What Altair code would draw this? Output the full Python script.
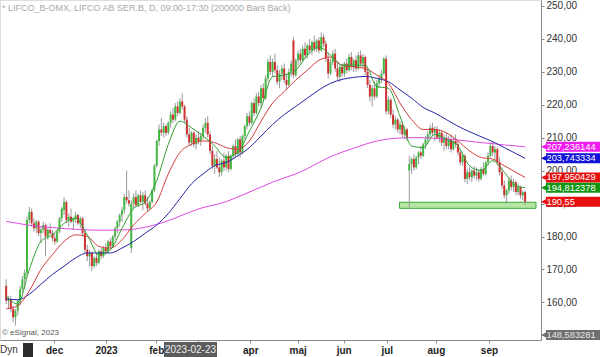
import altair as alt
import pandas as pd

# ---------------- data ----------------
opens = [165, 160.5, 161, 158, 155.5, 157.5, 160.5, 164, 167, 169,
         185, 187.5, 184, 182.5, 184.5, 181, 182, 183.5, 180, 182,
         181, 179.5, 178.5, 181.5, 185.5, 188, 190.5, 185, 186, 184.5,
         185.5, 186.5, 184, 185.5, 181, 176, 174, 175, 171, 173.5,
         172, 175.5, 174, 176.5, 175.5, 178.5, 177, 180, 182.5, 184.5,
         186.5, 188, 192, 191, 176.5, 190, 192, 189.5, 192.5, 190.5,
         192.5, 190, 188.5, 190.5, 194, 201.5, 209, 212.5, 211.5, 213.5,
         211.5, 214.5, 217, 215.5, 219.5, 217.5, 221, 219.5, 215.5, 211,
         208.5, 211.5, 208, 210, 209, 210.5, 213, 214.5, 211, 206,
         201.5, 203.5, 201, 199.5, 203, 201, 204.5, 200.5, 204.5, 207.5,
         205, 209.5, 205.5, 210.5, 213.5, 216.5, 214.5, 220.5, 217.5, 222.5,
         220.5, 225, 222, 228, 233, 230, 233, 230.5, 227, 229.5,
         231, 227.5, 226, 230, 239.5, 229, 233.5, 235.5, 233.5, 237,
         235, 238, 236.5, 239, 237, 239.5, 236.5, 240.5, 238.5, 234,
         229.5, 233, 235.5, 231, 228.5, 231.5, 229.5, 232.5, 230.5, 234.5,
         231.5, 233.5, 231, 235, 232.5, 234.5, 230, 226, 222.5, 225,
         222.5, 226.5, 228, 229.5, 234, 218, 221.5, 217, 214, 215.5,
         212.5, 214, 211, 212.5, 200, 202, 203.5, 201, 204, 205.5,
         204.5, 208, 209.5, 211, 213, 211.5, 212.5, 210, 211.5, 208.5,
         210, 207.5, 209.5, 206.5, 209, 208, 205.5, 202.5, 204.5, 197.5,
         199.5, 198, 200, 198.5, 199.5, 197.5, 200.5, 199, 202.5, 204.5,
         207.5, 205.5, 206.5, 202.5, 199.5, 195.5, 192.5, 194, 197, 195,
         196.5, 193.5, 195, 192.5, 193.5]
highs = [167, 162, 162, 159, 158, 161, 165, 168, 170, 186,
         189, 188.5, 185.5, 185, 185, 183, 184.5, 184, 182.5, 184,
         182, 181, 182, 186, 189, 192, 191, 187, 188.5, 186,
         187.5, 187, 186, 186, 182, 177.5, 176, 175.5, 174, 175,
         176, 176.5, 177, 178, 179, 179.5, 180.5, 183, 185, 187,
         189, 193, 200, 194, 191, 193, 194, 193, 194, 193.5,
         194, 192, 191, 194.5, 202, 209.5, 214, 216, 214.5, 214,
         215, 218, 219, 220.5, 221, 222, 223.5, 220, 216.5, 213,
         212, 212, 211, 212, 211.5, 214, 216, 216.5, 212, 207.5,
         205, 206, 204, 203.5, 205.5, 205, 206, 205, 208, 209.5,
         210, 210.5, 211, 214, 217.5, 218, 221, 222, 223.5, 224,
         226, 226.5, 229, 234, 235, 234, 235.5, 232, 230.5, 232,
         232.5, 229.5, 231, 233.5, 240.5, 234, 236.5, 237, 238, 239,
         238.5, 240, 239.5, 241, 240, 240.5, 242, 241.5, 239.5, 236,
         234, 236.5, 237, 233, 232, 232.5, 233, 234, 235.5, 236,
         234, 235, 236, 236.5, 235.5, 235, 231, 227.5, 226, 227,
         227.5, 229, 230.5, 234.5, 235, 222.5, 222, 218.5, 216.5, 216,
         215, 215, 213.5, 213, 204.5, 204, 205, 204.5, 206, 207.5,
         208.5, 210.5, 212, 214, 214.5, 213.5, 213.5, 212.5, 212, 211,
         211.5, 210.5, 211, 210, 211, 209, 206.5, 205.5, 205, 200.5,
         201, 200.5, 201.5, 201, 200.5, 201, 202.5, 203, 205.5, 208.5,
         209, 207.5, 207, 204, 201, 197, 194.5, 198, 198.5, 197.5,
         197, 196, 195.5, 194, 194]
lows = [159.5, 158, 157, 154, 153, 156, 159, 163, 164, 168,
        184, 183, 181.5, 181, 180, 178, 181, 174, 179, 180.5,
        178.5, 177.5, 178, 181, 184.5, 186.5, 184, 183, 184, 182,
        184, 183.5, 182.5, 180, 175, 172.5, 171, 169.5, 170.5, 171,
        171.5, 173, 173.5, 174.5, 175, 176, 176.5, 179, 181, 183,
        184.5, 187, 190, 189, 175, 188.5, 189, 189, 190, 188,
        189.5, 187.5, 188, 190, 193.5, 201, 207.5, 210.5, 210, 210.5,
        211, 213, 214.5, 215, 216.5, 217, 218.5, 214.5, 210, 207.5,
        207.5, 207, 206.5, 208, 207.5, 209.5, 211.5, 210, 205, 200.5,
        199, 200.5, 198, 198.5, 200, 200, 199.5, 200, 203.5, 204,
        204.5, 204, 205, 209.5, 212.5, 213.5, 214, 216.5, 217, 219.5,
        219, 221, 221.5, 227, 229, 228.5, 229.5, 226, 225, 227.5,
        226.5, 224.5, 225.5, 228.5, 228, 228.5, 232, 232.5, 233, 234,
        234, 235.5, 235, 236, 236, 235.5, 236, 237.5, 233, 228,
        229, 232, 230, 227.5, 227, 228.5, 228.5, 229.5, 230, 230.5,
        230, 230, 230.5, 231.5, 231, 229, 225, 221, 219.5, 221.5,
        222, 225, 226.5, 229, 217, 217, 216, 213, 212.5, 211.5,
        211, 210, 209.5, 209, 188.5, 199, 200, 200.5, 202, 203.5,
        204, 206.5, 208, 210, 210.5, 209, 209.5, 208.5, 207.5, 206,
        206.5, 206.5, 205.5, 206, 207, 204.5, 201.5, 201.5, 196.5, 196,
        197, 196.5, 197.5, 197, 196.5, 197, 198.5, 198.5, 201.5, 204,
        204.5, 203, 201.5, 198.5, 194.5, 191.5, 190, 193, 194, 193.5,
        192.5, 192.5, 191.5, 191, 189.5]
closes = [160.5, 161, 158, 155.5, 157.5, 160.5, 164, 167, 169, 185,
          187.5, 184, 182.5, 184.5, 181, 182, 183.5, 180, 182, 181,
          179.5, 178.5, 181.5, 185.5, 188.5, 190.5, 185, 186, 184.5, 185.5,
          186.5, 184, 185.5, 181, 176, 174, 175, 171, 173.5, 172,
          175.5, 174, 176.5, 175.5, 178.5, 177, 180, 182.5, 184.5, 186.5,
          188, 192, 191, 190, 190, 192, 189.5, 192.5, 190.5, 192.5,
          190, 188.5, 190.5, 194, 201.5, 209, 212.5, 211.5, 213.5, 211.5,
          214.5, 217, 215.5, 219.5, 217.5, 221, 219.5, 215.5, 211, 208.5,
          211.5, 208, 210, 209, 210.5, 213, 214.5, 211, 206, 201.5,
          203.5, 201, 199.5, 203, 201, 204.5, 200.5, 204.5, 207.5, 205,
          209.5, 205.5, 210.5, 213.5, 216.5, 214.5, 220.5, 217.5, 222.5, 220.5,
          225, 222, 228, 233, 230, 233, 230.5, 227, 229.5, 231,
          227.5, 226, 230, 232.5, 229, 233.5, 235.5, 233.5, 237, 235,
          238, 236.5, 239, 237, 239.5, 236.5, 240.5, 238.5, 234, 229.5,
          233, 235.5, 231, 228.5, 231.5, 229.5, 232.5, 230.5, 234.5, 231.5,
          233.5, 231, 235, 232.5, 234.5, 230, 226, 222.5, 225, 222.5,
          226.5, 228, 229.5, 234, 218, 221.5, 217, 214, 215.5, 212.5,
          214, 211, 212.5, 210, 202, 203.5, 201, 204, 205.5, 204.5,
          208, 209.5, 211, 213, 211.5, 212.5, 210, 211.5, 208.5, 210,
          207.5, 209.5, 206.5, 209, 208, 205.5, 202.5, 204.5, 197.5, 199.5,
          198, 200, 198.5, 199.5, 197.5, 200.5, 199, 202.5, 204.5, 207.5,
          205.5, 206.5, 202.5, 199.5, 195.5, 192.5, 194, 197, 195, 196.5,
          193.5, 195, 192.5, 193.5, 190.55]

ma_index = [0, 5, 10, 15, 20, 25, 30, 35, 40, 45, 50, 55, 60, 65, 70, 75, 80, 85,
            90, 95, 100, 105, 110, 115, 120, 125, 130, 135, 140, 145, 150, 155,
            160, 165, 170, 175, 180, 185, 190, 195, 200, 205, 210, 215, 220, 224]
ma_green = [162, 159.5, 170, 178.5, 180.5, 184, 185.5, 180.5, 174.5, 176,
            182.5, 188.5, 190.5, 197, 208, 215, 213, 210.5, 207.5, 204,
            205.5, 212, 219, 228.5, 229, 230.5, 235, 237.5, 235, 232,
            232, 232, 225.5, 225, 216.5, 207.5, 207, 211, 209.5, 207.5,
            201.5, 200, 203, 199.5, 195.5, 194.812378]
ma_red = [158, 159, 163.5, 170, 174.5, 178.5, 180.5, 180, 177, 176.5,
          179, 183.5, 187, 190.5, 199, 205.5, 208, 209, 208.5, 207,
          206.5, 209, 215, 220.5, 224, 227.5, 230.5, 233.5, 234.5, 232,
          231.5, 231, 229, 226.5, 220.5, 215.5, 212.5, 212.5, 211.5, 209,
          206, 204, 203.5, 201.5, 199.5, 197.950429]
ma_blue = [161, 160.8, 162.5, 165.5, 168.5, 171, 173.5, 175, 175, 175,
           176.5, 178.5, 181, 183.5, 187, 191.5, 196, 199, 201.5, 202.5,
           204.5, 207, 210.5, 214, 217, 219.5, 222, 224.5, 226.5, 227.7,
           228.3, 228.6, 228, 227, 224.5, 222, 219.2, 217.5, 215.5, 213.5,
           211.8, 210.3, 208.8, 207, 205.2, 203.743334]
ma_magenta = [184.6, 184, 183.4, 183, 182.7, 182.4, 182.2, 182, 181.9, 181.9,
              182, 182.2, 182.8, 183.7, 184.8, 186.2, 187.6, 188.8, 189.6, 190.6,
              192, 193.5, 195, 196.5, 197.8, 199, 200.6, 202.5, 204.2, 205.6,
              206.8, 208, 209, 209.6, 209.9, 210, 210, 209.8, 209.6, 209.3,
              208.9, 208.5, 208.2, 207.8, 207.5, 207.236144]

month_ticks = [20.7, 43.1, 64.8, 83, 105.4, 125.8, 145.7, 164.3, 185.5, 208.4]
month_labels = ["dec", "2023", "feb", "", "apr", "maj", "jun", "jul", "aug", "sep"]
price_ticks = [160, 170, 180, 190, 200, 210, 220, 230, 240, 250]

tag_values = [207.236144, 203.743334, 197.950429, 194.812378, 190.55]
tag_texts = ["207,236144", "203,743334", "197,950429", "194,812378", "190,55"]
tag_colors = ["#f01cf0", "#1212d8", "#e81010", "#129612", "#e81010"]
low_tag_value = 148.583281
low_tag_text = "148,583281"

support_start = 169.8
support_low = 188.55
support_high = 190.4

X_MAX = 228.7
Y_MIN = 148.583281
Y_MAX = 251.8

# ---------------- chart ----------------
FONT = "Liberation Sans"
xs = alt.Scale(domain=[-0.5, X_MAX], nice=False, zero=False)
ys = alt.Scale(domain=[Y_MIN, Y_MAX], nice=False, zero=False)

labels_js = "[" + ",".join("'" + l + "'" for l in month_labels) + "]"
ticks_js = "[" + ",".join(str(t) for t in month_ticks) + "]"

x_axis = alt.Axis(values=month_ticks, labelExpr=labels_js + "[indexof(" + ticks_js + ", datum.value)]",
                  title=None, grid=False, tickSize=3, labelPadding=2, labelFontSize=10,
                  labelFontWeight="bold", labelColor="#222", domainColor="#8a8a8a",
                  tickColor="#8a8a8a", labelOverlap=False, labelFlush=False, labelFont=FONT)
y_axis = alt.Axis(values=price_ticks, labelExpr="replace(format(datum.value, '.2f'), '.', ',')",
                  orient="right", title=None, grid=False, tickSize=3, labelPadding=2,
                  labelFontSize=10, labelColor="#333", domainColor="#8a8a8a", tickColor="#8a8a8a",
                  labelOverlap=False, labelFont=FONT)


def X(field):
    return alt.X(field + ":Q", scale=xs, axis=x_axis)


def Y(field):
    return alt.Y(field + ":Q", scale=ys, axis=y_axis)


df = pd.DataFrame({"i": list(range(len(closes))), "o": opens, "h": highs, "l": lows, "c": closes})

support = alt.Chart(pd.DataFrame({"x0": [support_start], "x1": [X_MAX], "y0": [support_low], "y1": [support_high]})).mark_rect(
    fill="#b4e6a4", stroke="#3da53d", strokeWidth=1
).encode(x=X("x0"), x2="x1", y=Y("y0"), y2="y1")

wicks = alt.Chart(df).mark_rule(color="#9a9a9a", strokeWidth=1).encode(x=X("i"), y=Y("l"), y2="h")

bodies = alt.Chart(df).mark_bar(size=2).encode(
    x=X("i"), y=Y("o"), y2="c",
    color=alt.condition("datum.c >= datum.o", alt.value("#42b842"), alt.value("#cf2f2f")),
)


def ma_layer(values, color):
    d = pd.DataFrame({"i": ma_index, "v": values})
    return alt.Chart(d).mark_line(color=color, strokeWidth=1, interpolate="monotone").encode(x=X("i"), y=Y("v"))


lines = [ma_layer(ma_magenta, "#e048e0"), ma_layer(ma_blue, "#2424a6"),
         ma_layer(ma_red, "#d23c3c"), ma_layer(ma_green, "#2f9e2f")]

tags_df = pd.DataFrame({"v": tag_values, "t": tag_texts, "col": tag_colors})
tag_box = alt.Chart(tags_df).mark_rule(strokeWidth=10, strokeCap="butt").encode(
    x=alt.value(546), x2=alt.value(600), y=Y("v"), color=alt.Color("col:N", scale=None))
tag_arrow = alt.Chart(tags_df).mark_point(shape="M 1 -1 L 1 1 L -1 0 Z", filled=True, size=100, opacity=1).encode(
    x=alt.value(546), y=Y("v"), color=alt.Color("col:N", scale=None))
tag_text = alt.Chart(tags_df).mark_text(align="left", baseline="middle", fontSize=9.3, font=FONT, color="white").encode(
    x=alt.value(546.5), y=Y("v"), text="t:N")

low_df = pd.DataFrame({"v": [low_tag_value], "t": [low_tag_text]})
low_box = alt.Chart(low_df).mark_rule(strokeWidth=10, strokeCap="butt", color="#6e6e6e", yOffset=-5).encode(
    x=alt.value(546), x2=alt.value(600), y=Y("v"))
low_arrow = alt.Chart(low_df).mark_point(shape="M 1 -1 L 1 1 L -1 0 Z", filled=True, size=100, opacity=1,
                                         color="#6e6e6e", yOffset=-5).encode(x=alt.value(546), y=Y("v"))
low_text = alt.Chart(low_df).mark_text(align="left", baseline="middle", fontSize=9.3, font=FONT, color="#e8e8e8",
                                       dy=-5).encode(x=alt.value(546.5), y=Y("v"), text="t:N")

one = pd.DataFrame({"k": [0]})
title = alt.Chart(one).mark_text(align="left", baseline="middle", fontSize=9, font=FONT, color="#a8a8a8",
                                 text="* LIFCO_B-OMX, LIFCO AB SER.B, D, 09:00-17:30 (200000 Bars Back)").encode(
    x=alt.value(2), y=alt.value(8))
copyright_ = alt.Chart(one).mark_text(align="left", baseline="middle", fontSize=8, font=FONT, color="#555",
                                      text="© eSignal, 2023").encode(x=alt.value(2), y=alt.value(333))
dyn = alt.Chart(one).mark_text(align="left", baseline="middle", fontSize=10, font=FONT, color="#333",
                               text="Dyn").encode(x=alt.value(0), y=alt.value(350))
lock = alt.Chart(one).mark_rect(fill="#2e2e2e").encode(
    x=alt.value(23), x2=alt.value(33), y=alt.value(343), y2=alt.value(357))
date_box = alt.Chart(one).mark_rect(fill="#5c5c5c").encode(
    x=alt.value(164), x2=alt.value(217), y=alt.value(342), y2=alt.value(357))
date_text = alt.Chart(one).mark_text(align="center", baseline="middle", fontSize=10, font=FONT, color="#eeeeee",
                                     text="2023-02-23").encode(x=alt.value(190.5), y=alt.value(350))

chart = alt.layer(
    support, wicks, bodies, *lines, tag_box, tag_arrow, tag_text, low_box, low_arrow, low_text,
    title, copyright_, dyn, lock, date_box, date_text
).properties(
    width=541, height=340,
    autosize=alt.AutoSizeParams(type="none"),
    padding={"left": 0, "top": 0, "right": 59, "bottom": 17},
).configure_view(stroke=None).configure(font=FONT, background="white")

chart.save("out.html", embed_options={"renderer": "svg", "actions": False})
